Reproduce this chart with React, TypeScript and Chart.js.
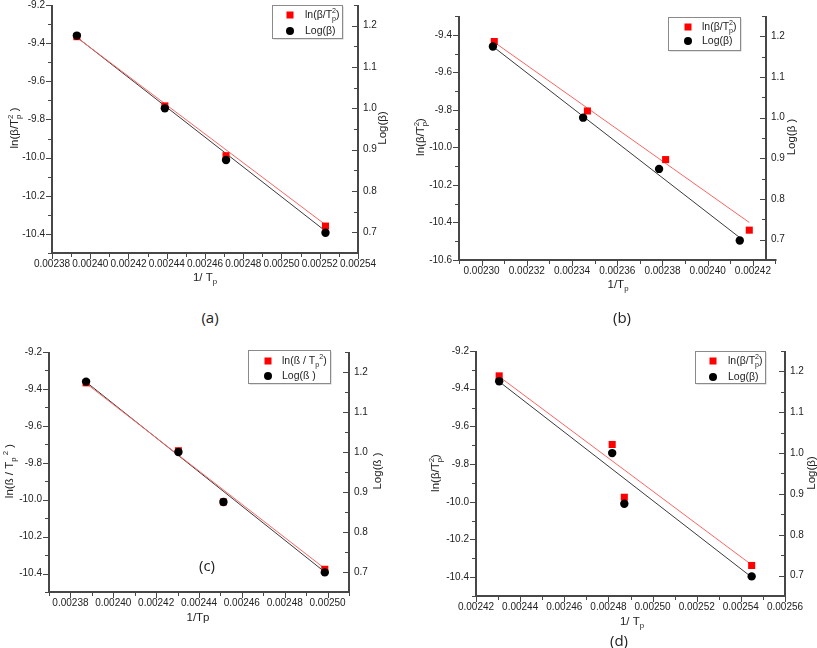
import React, { useEffect, useRef } from "react";
import { Chart, registerables } from "chart.js";
Chart.register(...registerables);

const FONT = "'Liberation Sans', Arial, sans-serif";
const TXT = "#222";
const AXIS = "#474747";

// ---------- Panel (a) ----------
const aInvTp = [0.002393, 0.002439, 0.002471, 0.002523];
const aLnBetaT2 = [-9.366, -9.729, -9.99, -10.359];
const aLogBeta = [1.176, 1.0, 0.875, 0.699];
const aFitX = [0.002393, 0.002523];
const aFitLn = [-9.37, -10.352];
const aFitLog = [1.172, 0.703];
const aXTicks = [0.00238, 0.0024, 0.00242, 0.00244, 0.00246, 0.00248, 0.0025, 0.00252, 0.00254];

// ---------- Panel (b) ----------
const bInvTpRed = [0.0023056, 0.0023468, 0.0023814, 0.0024184];
const bLnBetaT2 = [-9.436, -9.806, -10.065, -10.441];
const bInvTpBlack = [0.002305, 0.0023449, 0.0023785, 0.0024142];
const bLogBeta = [1.175, 1.0, 0.874, 0.698];
const bFitXRed = [0.0023056, 0.0024184];
const bFitLn = [-9.44, -10.4];
const bFitXBlack = [0.002305, 0.0024142];
const bFitLog = [1.175, 0.705];
const bXTicks = [0.0023, 0.00232, 0.00234, 0.00236, 0.00238, 0.0024, 0.00242];
const bYTicks = [-10.6, -10.4, -10.2, -10.0, -9.8, -9.6, -9.4];

// ---------- Panel (c) ----------
const cInvTp = [0.0023873, 0.0024304, 0.0024514, 0.0024987];
const cLnBetaT2 = [-9.367, -9.735, -10.012, -10.377];
const cLogBeta = [1.176, 1.0, 0.875, 0.699];
const cFitX = [0.0023873, 0.0024987];
const cFitLn = [-9.37, -10.373];
const cFitLog = [1.175, 0.7];
const cXTicks = [0.00238, 0.0024, 0.00242, 0.00244, 0.00246, 0.00248, 0.0025];

// ---------- Panel (d) ----------
const dInvTp = [0.0024305, 0.0024817, 0.0024872, 0.0025449];
const dLnBetaT2 = [-9.332, -9.696, -9.976, -10.338];
const dLogBeta = [1.176, 1.0, 0.876, 0.698];
const dFitX = [0.0024305, 0.0025449];
const dFitLn = [-9.336, -10.335];
const dFitLog = [1.175, 0.696];
const dXTicks = [0.00242, 0.00244, 0.00246, 0.00248, 0.0025, 0.00252, 0.00254, 0.00256];

// shared ticks
const yLeftTicks = [-10.4, -10.2, -10.0, -9.8, -9.6, -9.4, -9.2];
const yRightTicks = [0.7, 0.8, 0.9, 1.0, 1.1, 1.2];

type Seg = { t: string; k?: "sub" | "sup" | "stack"; s2?: string };

const lnBeta: Seg[] = [{ t: "ln(β/T" }, { t: "p", k: "stack", s2: "2" }, { t: ")" }];
const lnBetaSp: Seg[] = [{ t: "ln(β/T" }, { t: "p", k: "stack", s2: "2" }, { t: " )" }];
const lnSz: Seg[] = [{ t: "ln(ß / T" }, { t: "p", k: "sub" }, { t: "2", k: "sup" }, { t: ")" }];
const lnSzTitle: Seg[] = [{ t: "ln(ß / T" }, { t: "p", k: "sub" }, { t: " 2", k: "sup" }, { t: " )" }];
const logBeta: Seg[] = [{ t: "Log(β)" }];
const logBetaSp: Seg[] = [{ t: "Log(β )" }];
const logSz: Seg[] = [{ t: "Log(ß )" }];
const invTpSp: Seg[] = [{ t: "1/ T" }, { t: "p", k: "sub" }];
const invTp: Seg[] = [{ t: "1/T" }, { t: "p", k: "sub" }];
const invTpPlain: Seg[] = [{ t: "1/Tp" }];

function drawRich(ctx: CanvasRenderingContext2D, segs: Seg[], x: number, y: number, fs: number, rot: boolean, align: "center" | "left") {
  const small = fs * 0.68;
  const f = (z: number) => `${z}px ${FONT}`;
  const widths = segs.map((s) => {
    if (!s.k) { ctx.font = f(fs); return ctx.measureText(s.t).width; }
    ctx.font = f(small);
    if (s.k === "stack") return Math.max(ctx.measureText(s.t).width, ctx.measureText(s.s2 || "").width);
    return ctx.measureText(s.t).width;
  });
  const total = widths.reduce((a, b) => a + b, 0);
  ctx.save();
  ctx.translate(x, y);
  if (rot) ctx.rotate(-Math.PI / 2);
  ctx.fillStyle = TXT;
  ctx.textBaseline = "middle";
  ctx.textAlign = "left";
  let cx = align === "center" ? -total / 2 : 0;
  segs.forEach((s, i) => {
    if (!s.k) { ctx.font = f(fs); ctx.fillText(s.t, cx, 0); }
    else {
      ctx.font = f(small);
      if (s.k === "sub") ctx.fillText(s.t, cx, fs * 0.34);
      else if (s.k === "sup") ctx.fillText(s.t, cx, -fs * 0.36);
      else { ctx.fillText(s.t, cx, fs * 0.34); ctx.fillText(s.s2 || "", cx, -fs * 0.36); }
    }
    cx += widths[i];
  });
  ctx.restore();
}

interface Panel {
  key: string;
  label: string;
  labelPos: [number, number];
  canvas: [number, number, number, number];
  area: [number, number, number, number];
  xMin: number; xMax: number; xExt?: number;
  yMin: number; yMax: number; y1Min: number; y1Max: number;
  xTicks: number[]; yTicks: number[]; y1Ticks: number[];
  redX: number[]; redY: number[]; blackX: number[]; blackY: number[];
  fitRedX: number[]; fitRedY: number[]; fitBlackX: number[]; fitBlackY: number[];
  leftTitle: Seg[]; leftPos: [number, number];
  rightTitle: Seg[]; rightPos: [number, number];
  bottomTitle: Seg[]; bottomPos: [number, number];
  legBox: [number, number, number, number];
  legMarkX: number; legRows: [number, number]; legTextX: number;
  legRed: Seg[]; legBlack: Seg[];
}

const panels: Panel[] = [
  {
    key: "a", label: "(a)", labelPos: [210, 317],
    canvas: [0, -8, 400, 311], area: [52, 4, 358, 253],
    xMin: 0.00238, xMax: 0.00254, yMin: -10.5, yMax: -9.2, y1Min: 0.65, y1Max: 1.25,
    xTicks: aXTicks, yTicks: yLeftTicks, y1Ticks: yRightTicks,
    redX: aInvTp, redY: aLnBetaT2, blackX: aInvTp, blackY: aLogBeta,
    fitRedX: aFitX, fitRedY: aFitLn, fitBlackX: aFitX, fitBlackY: aFitLog,
    leftTitle: lnBetaSp, leftPos: [15, 128], rightTitle: logBeta, rightPos: [383, 128],
    bottomTitle: invTpSp, bottomPos: [205, 278],
    legBox: [272, 5, 70, 33], legMarkX: 290, legRows: [15, 31], legTextX: 305,
    legRed: lnBeta, legBlack: logBeta,
  },
  {
    key: "b", label: "(b)", labelPos: [622, 317],
    canvas: [405, 3, 412, 307], area: [459, 15, 766, 260],
    xMin: 0.00229, xMax: 0.0024258, xExt: 0.00243, yMin: -10.6, yMax: -9.3, y1Min: 0.65, y1Max: 1.25,
    xTicks: bXTicks, yTicks: bYTicks, y1Ticks: yRightTicks,
    redX: bInvTpRed, redY: bLnBetaT2, blackX: bInvTpBlack, blackY: bLogBeta,
    fitRedX: bFitXRed, fitRedY: bFitLn, fitBlackX: bFitXBlack, fitBlackY: bFitLog,
    leftTitle: lnBeta, leftPos: [421, 137], rightTitle: logBetaSp, rightPos: [792, 137],
    bottomTitle: invTp, bottomPos: [618, 285],
    legBox: [668, 17, 72, 33], legMarkX: 688, legRows: [27, 41], legTextX: 702,
    legRed: lnBeta, legBlack: logBeta,
  },
  {
    key: "c", label: "(c)", labelPos: [207, 565],
    canvas: [0, 339, 400, 303], area: [49, 351, 349, 592],
    xMin: 0.00237, xMax: 0.00251, yMin: -10.5, yMax: -9.2, y1Min: 0.65, y1Max: 1.25,
    xTicks: cXTicks, yTicks: yLeftTicks, y1Ticks: yRightTicks,
    redX: cInvTp, redY: cLnBetaT2, blackX: cInvTp, blackY: cLogBeta,
    fitRedX: cFitX, fitRedY: cFitLn, fitBlackX: cFitX, fitBlackY: cFitLog,
    leftTitle: lnSzTitle, leftPos: [10, 471], rightTitle: logSz, rightPos: [378, 471],
    bottomTitle: invTpPlain, bottomPos: [198, 618],
    legBox: [248, 350, 82, 33], legMarkX: 268, legRows: [361, 376], legTextX: 282,
    legRed: lnSz, legBlack: logSz,
  },
  {
    key: "d", label: "(d)", labelPos: [619, 640],
    canvas: [405, 338, 412, 308], area: [476, 350, 785, 596],
    xMin: 0.00242, xMax: 0.00256, yMin: -10.5, yMax: -9.2, y1Min: 0.65, y1Max: 1.25,
    xTicks: dXTicks, yTicks: yLeftTicks, y1Ticks: yRightTicks,
    redX: dInvTp, redY: dLnBetaT2, blackX: dInvTp, blackY: dLogBeta,
    fitRedX: dFitX, fitRedY: dFitLn, fitBlackX: dFitX, fitBlackY: dFitLog,
    leftTitle: lnBeta, leftPos: [436, 473], rightTitle: logBeta, rightPos: [812, 473],
    bottomTitle: invTpSp, bottomPos: [632, 622],
    legBox: [695, 351, 70, 32], legMarkX: 713, legRows: [361, 377], legTextX: 728,
    legRed: lnBeta, legBlack: logBeta,
  },
];

function makeDecor(p: Panel) {
  const [L0, T0] = p.canvas;
  return {
    id: "decor_" + p.key,
    afterDraw(chart: any) {
      const ctx: CanvasRenderingContext2D = chart.ctx;
      const ca = chart.chartArea;
      const xs = chart.scales.x, yl = chart.scales.y, yr = chart.scales.y1;
      const line = (x1: number, y1: number, x2: number, y2: number) => {
        ctx.beginPath(); ctx.moveTo(x1, y1); ctx.lineTo(x2, y2); ctx.stroke();
      };
      ctx.save();
      ctx.strokeStyle = AXIS;
      ctx.lineWidth = 2;
      const xEnd = p.xExt ? xs.getPixelForValue(p.xExt) : ca.right;
      line(ca.left, ca.top, ca.left, ca.bottom + 1);
      line(ca.right, ca.top, ca.right, ca.bottom + 1);
      line(ca.left - 1, ca.bottom, xEnd + 1, ca.bottom);
      ctx.lineWidth = 1;
      const minorVals = (t: number[], lo: number, hi: number) => {
        const half = (t[1] - t[0]) / 2;
        const out: number[] = [];
        for (let j = -6; j < t.length + 6; j++) {
          const v = t[0] + (2 * j + 1) * half;
          if (v >= lo - half * 0.01 && v <= hi + half * 0.01) out.push(v);
        }
        return out;
      };
      const xHi = p.xExt || p.xMax;
      p.xTicks.forEach((v) => { const px = Math.round(xs.getPixelForValue(v)) + 0.5; line(px, ca.bottom, px, ca.bottom + 6); });
      minorVals(p.xTicks, p.xMin, xHi).forEach((v) => { const px = Math.round(xs.getPixelForValue(v)) + 0.5; line(px, ca.bottom, px, ca.bottom + 4); });
      p.yTicks.forEach((v) => { const py = Math.round(yl.getPixelForValue(v)) + 0.5; line(ca.left - 6, py, ca.left, py); });
      minorVals(p.yTicks, p.yMin, p.yMax).forEach((v) => { const py = Math.round(yl.getPixelForValue(v)) + 0.5; line(ca.left - 4, py, ca.left, py); });
      p.y1Ticks.forEach((v) => { const py = Math.round(yr.getPixelForValue(v)) + 0.5; line(ca.right - 6, py, ca.right, py); });
      minorVals(p.y1Ticks, p.y1Min, p.y1Max).forEach((v) => { const py = Math.round(yr.getPixelForValue(v)) + 0.5; line(ca.right - 4, py, ca.right, py); });
      ctx.restore();

      drawRich(ctx, p.leftTitle, p.leftPos[0] - L0, p.leftPos[1] - T0, 11.5, true, "center");
      drawRich(ctx, p.rightTitle, p.rightPos[0] - L0, p.rightPos[1] - T0, 11.5, true, "center");
      drawRich(ctx, p.bottomTitle, p.bottomPos[0] - L0, p.bottomPos[1] - T0, 11.5, false, "center");

      const [bx, by, bw, bh] = p.legBox;
      ctx.save();
      ctx.fillStyle = "#c8c8c8";
      ctx.fillRect(bx - L0 + 1.5, by - T0 + 1.5, bw, bh);
      ctx.fillStyle = "#fff";
      ctx.fillRect(bx - L0, by - T0, bw, bh);
      ctx.strokeStyle = "#8a8a8a";
      ctx.lineWidth = 1;
      ctx.strokeRect(bx - L0 + 0.5, by - T0 + 0.5, bw, bh);
      const mx = p.legMarkX - L0;
      const r1 = p.legRows[0] - T0, r2 = p.legRows[1] - T0;
      ctx.fillStyle = "#ff0000";
      ctx.fillRect(mx - 3.5, r1 - 3.5, 7, 7);
      ctx.fillStyle = "#000";
      ctx.beginPath(); ctx.arc(mx, r2, 4, 0, Math.PI * 2); ctx.fill();
      ctx.restore();
      drawRich(ctx, p.legRed, p.legTextX - L0, r1, 10.5, false, "left");
      drawRich(ctx, p.legBlack, p.legTextX - L0, r2, 10.5, false, "left");
    },
  };
}

function PanelChart({ p }: { p: Panel }) {
  const ref = useRef<HTMLCanvasElement | null>(null);
  useEffect(() => {
    if (!ref.current) return;
    const [L0, T0, W, H] = p.canvas;
    const [al, at, ar, ab] = p.area;
    const tickFont = { family: FONT, size: 10 };
    const chart = new Chart(ref.current, {
      type: "scatter",
      data: {
        datasets: [
          {
            type: "scatter", label: "Log", yAxisID: "y1",
            data: p.blackX.map((x, i) => ({ x, y: p.blackY[i] })),
            pointStyle: "circle", pointRadius: 4.2, backgroundColor: "#000", borderColor: "#000", borderWidth: 0,
          },
          {
            type: "scatter", label: "ln", yAxisID: "y",
            data: p.redX.map((x, i) => ({ x, y: p.redY[i] })),
            pointStyle: "rect", pointRadius: 5, backgroundColor: "#ff0000", borderColor: "#ff0000", borderWidth: 0,
          },
          {
            type: "line", label: "fitLn", yAxisID: "y",
            data: p.fitRedX.map((x, i) => ({ x, y: p.fitRedY[i] })),
            borderColor: "#ff6464", borderWidth: 1, pointRadius: 0, fill: false,
          },
          {
            type: "line", label: "fitLog", yAxisID: "y1",
            data: p.fitBlackX.map((x, i) => ({ x, y: p.fitBlackY[i] })),
            borderColor: "#3a3a3a", borderWidth: 1, pointRadius: 0, fill: false,
          },
        ] as any,
      },
      options: {
        animation: false,
        responsive: false,
        devicePixelRatio: 1,
        events: [],
        layout: { padding: { top: at - T0, left: 0, right: 0, bottom: 0 } },
        plugins: { legend: { display: false }, tooltip: { enabled: false }, title: { display: false } },
        scales: {
          x: {
            type: "linear", position: "bottom", min: p.xMin, max: p.xMax,
            grid: { display: false, drawTicks: false }, border: { display: false },
            ticks: { autoSkip: false, maxRotation: 0, minRotation: 0, padding: 5, color: TXT, font: tickFont,
              callback: (v: any) => Number(v).toFixed(5) },
            afterBuildTicks: (s: any) => { s.ticks = p.xTicks.map((v) => ({ value: v })); },
            afterFit: (s: any) => { s.height = T0 + H - ab; },
          },
          y: {
            type: "linear", position: "left", min: p.yMin, max: p.yMax,
            grid: { display: false, drawTicks: false }, border: { display: false },
            ticks: { padding: 7, color: TXT, font: tickFont, callback: (v: any) => Number(v).toFixed(1) },
            afterBuildTicks: (s: any) => { s.ticks = p.yTicks.map((v) => ({ value: v })); },
            afterFit: (s: any) => { s.width = al - L0; },
          },
          y1: {
            type: "linear", position: "right", min: p.y1Min, max: p.y1Max,
            grid: { display: false, drawTicks: false }, border: { display: false },
            ticks: { padding: 5, color: TXT, font: tickFont, callback: (v: any) => Number(v).toFixed(1) },
            afterBuildTicks: (s: any) => { s.ticks = p.y1Ticks.map((v) => ({ value: v })); },
            afterFit: (s: any) => { s.width = L0 + W - ar; },
          },
        },
      } as any,
      plugins: [makeDecor(p)],
    });
    return () => chart.destroy();
  }, [p]);
  const [L0, T0, W, H] = p.canvas;
  return (
    <>
      <canvas ref={ref} width={W} height={H}
        style={{ position: "absolute", left: L0, top: T0, width: W, height: H }} />
      <div style={{
        position: "absolute", left: p.labelPos[0], top: p.labelPos[1], transform: "translate(-50%, -50%)",
        fontFamily: "'Open Sans', 'Noto Sans', sans-serif", fontSize: 15, color: "#222", whiteSpace: "nowrap", zIndex: 2,
      }}>{p.label}</div>
    </>
  );
}

export default function App() {
  return (
    <div style={{ position: "absolute", left: 0, top: 0, width: 817, height: 648, background: "#fff", overflow: "hidden" }}>
      {panels.map((p) => <PanelChart key={p.key} p={p} />)}
    </div>
  );
}
